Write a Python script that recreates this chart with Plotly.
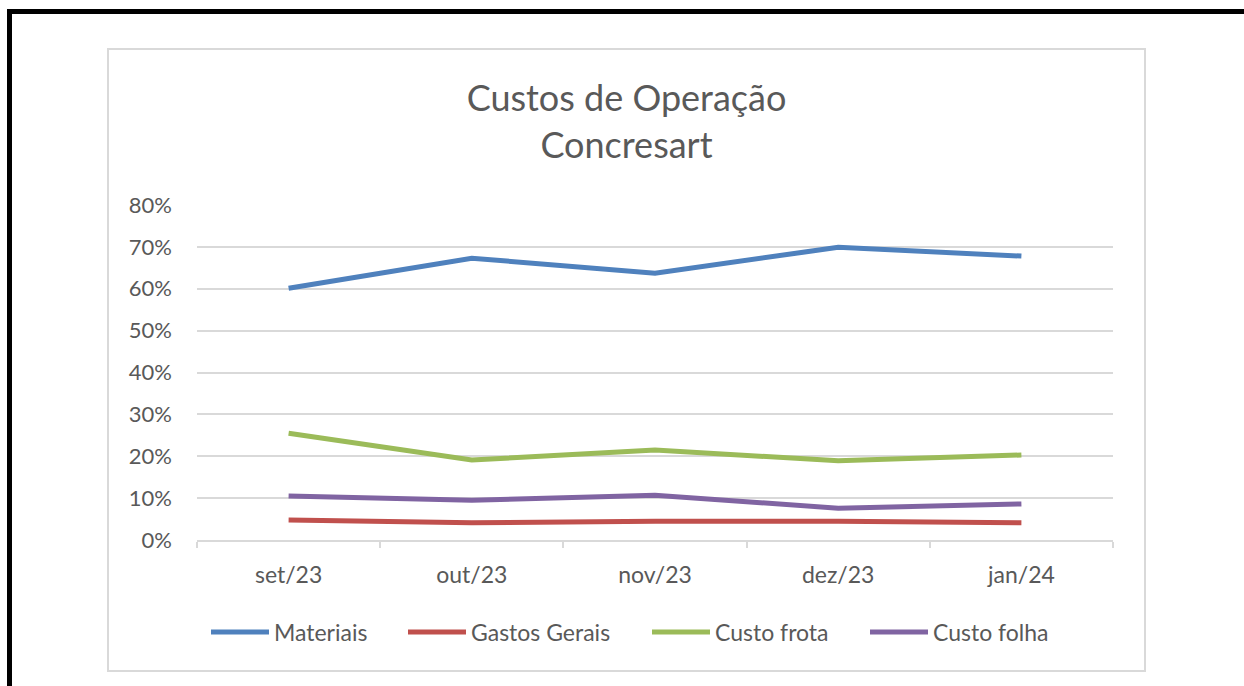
import plotly.graph_objects as go

months = ["set/23", "out/23", "nov/23", "dez/23", "jan/24"]
materiais = [0.601, 0.673, 0.637, 0.699, 0.678]
gastos_gerais = [0.048, 0.041, 0.045, 0.045, 0.041]
custo_frota = [0.255, 0.191, 0.215, 0.189, 0.203]
custo_folha = [0.105, 0.095, 0.107, 0.076, 0.086]
y_ticks = [0, 0.1, 0.2, 0.3, 0.4, 0.5, 0.6, 0.7, 0.8]

series = [
    ("Materiais", materiais, "#4F81BD"),
    ("Gastos Gerais", gastos_gerais, "#C0504D"),
    ("Custo frota", custo_frota, "#9BBB59"),
    ("Custo folha", custo_folha, "#8064A2"),
]
legend_starts = [206, 403, 647, 865]

W, H = 1244, 686
ml, mr, mt, mb = 197, W - 1113, 205, H - 540
pw, ph = W - ml - mr, H - mt - mb

def px(x):
    return (x - ml) / pw

def py(y):
    return (H - mb - y) / ph

FONT = "Lato"
GRAY = "#595959"

fig = go.Figure()
legend_layouts = {}
for i, (name, vals, col) in enumerate(series):
    lg = "legend" if i == 0 else f"legend{i + 1}"
    fig.add_trace(go.Scatter(
        x=months, y=vals, name=name, mode="lines",
        line=dict(color=col, width=5), legend=lg,
    ))
    legend_layouts[lg] = dict(
        orientation="h", x=px(legend_starts[i]), xanchor="left",
        y=py(632), yanchor="middle",
        font=dict(family=FONT, size=23, color=GRAY), itemwidth=58,
        bgcolor="rgba(0,0,0,0)", borderwidth=0,
    )

shapes = [
    dict(type="rect", xref="paper", yref="paper",
         x0=px(108), x1=px(1145), y0=py(671), y1=py(49),
         line=dict(color="#D9D9D9", width=2), layer="below"),
    dict(type="rect", xref="paper", yref="paper",
         x0=px(7), x1=px(1244), y0=py(14), y1=py(9),
         fillcolor="black", line=dict(width=0)),
    dict(type="rect", xref="paper", yref="paper",
         x0=px(7), x1=px(12), y0=py(686), y1=py(9),
         fillcolor="black", line=dict(width=0)),
]

fig.update_layout(
    width=W, height=H,
    margin=dict(l=ml, r=mr, t=mt, b=mb, autoexpand=False),
    paper_bgcolor="white", plot_bgcolor="white",
    title=dict(text="Custos de Operação<br>Concresart", x=px(626.5), xanchor="center",
               xref="paper", y=1 - 111 / H, yanchor="middle",
               font=dict(family=FONT, size=36, color=GRAY)),
    font=dict(family=FONT, color=GRAY),
    showlegend=True,
    shapes=shapes,
    xaxis=dict(
        type="category", range=[-0.5, 4.5], showgrid=False,
        showline=True, linecolor="#D9D9D9", linewidth=1.5,
        ticks="outside", tickson="boundaries", ticklen=6, tickcolor="#D9D9D9", tickwidth=1.5,
        tickfont=dict(family=FONT, size=23, color=GRAY), ticklabelstandoff=14,
        zeroline=False, fixedrange=True,
    ),
    yaxis=dict(
        range=[0, 0.8], tickvals=y_ticks, tickformat=".0%",
        showgrid=True, gridcolor="#D9D9D9", gridwidth=1.5,
        showline=False, zeroline=False, ticks="",
        tickfont=dict(family=FONT, size=22, color=GRAY), ticklabelstandoff=24,
        fixedrange=True,
    ),
    **legend_layouts,
)

fig.write_html("out.html", config={"displayModeBar": False},
               post_script="document.body.style.margin='0px';")
